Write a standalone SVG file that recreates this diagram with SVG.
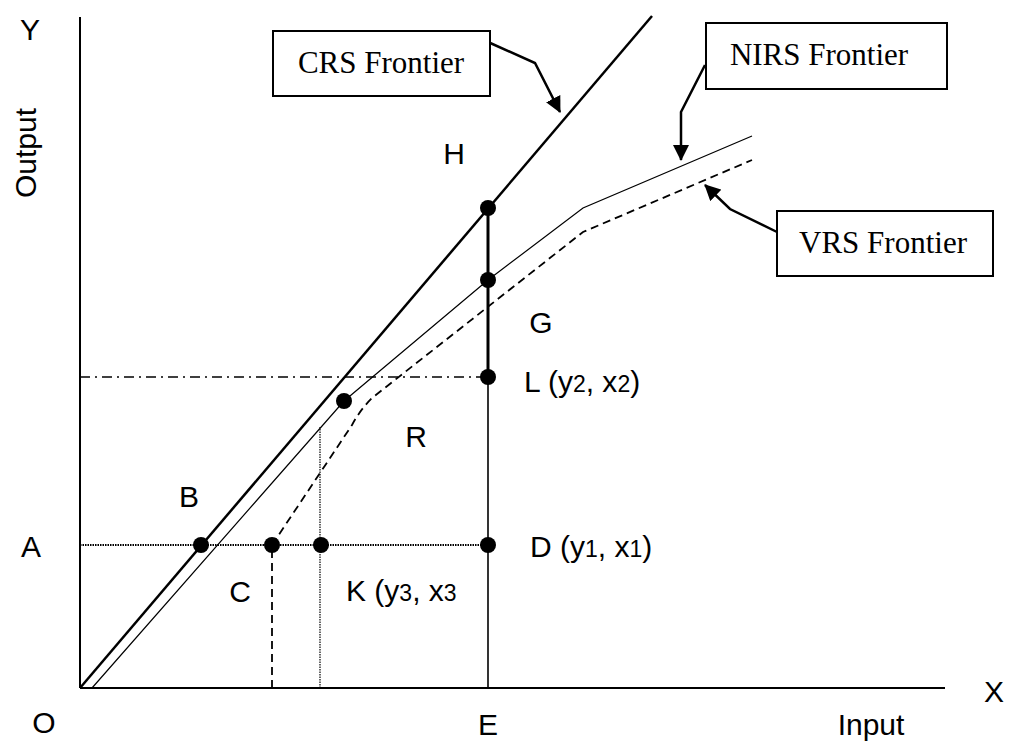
<svg xmlns="http://www.w3.org/2000/svg" width="1011" height="742" viewBox="0 0 1011 742">
<style>
.lbl{font-family:"Liberation Sans",Arial,sans-serif;font-size:30px;fill:#000}
.sub{font-size:23px}
.box{fill:#fff;stroke:#000;stroke-width:2}
.btxt{font-family:"Liberation Serif","Times New Roman",serif;font-size:31px;fill:#000;text-anchor:middle}
.ln{fill:none;stroke:#000}
.dot{fill:#000}
</style>
<defs>
<marker id="ahb" markerWidth="16" markerHeight="16" refX="15" refY="8" orient="auto" markerUnits="userSpaceOnUse" viewBox="0 0 16 16">
<path d="M0,0 L16,8 L0,16 Z" fill="#000"/>
</marker>
</defs>
<rect width="1011" height="742" fill="#fff"/>
<g id="axes">
<line class="ln" x1="80" y1="17" x2="80" y2="688" stroke-width="2"/>
<line class="ln" x1="80" y1="688" x2="945" y2="688" stroke-width="2"/>
</g>
<g id="connectors">
<line class="ln" x1="80" y1="545" x2="488" y2="545" stroke-width="2" stroke-dasharray="1.5 1"/>
<line class="ln" x1="80" y1="377" x2="488" y2="377" stroke-width="1.5" stroke-dasharray="10 5 2 5"/>
<line class="ln" x1="320" y1="688" x2="320" y2="427" stroke-width="1.2" stroke-dasharray="1.5 1"/>
<line class="ln" x1="272" y1="688" x2="272" y2="545" stroke-width="1.8" stroke-dasharray="8 5"/>
<line class="ln" x1="488" y1="208" x2="488" y2="377" stroke-width="3"/>
<line class="ln" x1="488" y1="377" x2="488" y2="688" stroke-width="1.6"/>
<line id="crs" class="ln" x1="80" y1="688" x2="652" y2="16" stroke-width="2.5"/>
<polyline id="nirs" class="ln" points="92,688 344,401 488,280 583,208 752,136" stroke-width="1.2"/>
<path id="vrs" class="ln" d="M272,545 L352,425 Q360,410 372,398 L583,232 L752,160" stroke-width="1.8" stroke-dasharray="8 5"/>
<polyline class="ln" points="488,42 535,63 560,112" stroke-width="2.5" marker-end="url(#ahb)"/>
<polyline class="ln" points="705,65 681,112 681,160" stroke-width="2.5" marker-end="url(#ahb)"/>
<polyline class="ln" points="777,232 730,209 705,185" stroke-width="2.5" marker-end="url(#ahb)"/>
</g>
<g id="points">
<circle class="dot" cx="201" cy="545" r="8"/>
<circle class="dot" cx="272" cy="545" r="8"/>
<circle class="dot" cx="321" cy="545" r="8"/>
<circle class="dot" cx="488" cy="545" r="8"/>
<circle class="dot" cx="488" cy="377" r="8"/>
<circle class="dot" cx="344" cy="401" r="8"/>
<circle class="dot" cx="488" cy="280" r="8"/>
<circle class="dot" cx="488" cy="208" r="8"/>
</g>
<g id="crs-box">
<rect class="box" x="273" y="31" width="217" height="65"/>
<text class="btxt" x="381" y="73">CRS Frontier</text>
</g>
<g id="nirs-box">
<rect class="box" x="706" y="23" width="241" height="66"/>
<text class="btxt" x="819" y="65">NIRS Frontier</text>
</g>
<g id="vrs-box">
<rect class="box" x="777" y="211" width="216" height="65"/>
<text class="btxt" x="883" y="253">VRS Frontier</text>
</g>
<g id="labels">
<text class="lbl" x="30" y="40" text-anchor="middle">Y</text>
<text class="lbl" x="36" y="153" text-anchor="middle" transform="rotate(-90 36 153)">Output</text>
<text class="lbl" x="994" y="702" text-anchor="middle">X</text>
<text class="lbl" x="871" y="735" text-anchor="middle">Input</text>
<text class="lbl" x="44" y="733" text-anchor="middle">O</text>
<text class="lbl" x="488" y="735" text-anchor="middle">E</text>
<text class="lbl" x="31" y="557" text-anchor="middle">A</text>
<text class="lbl" x="189" y="507" text-anchor="middle">B</text>
<text class="lbl" x="240" y="602" text-anchor="middle">C</text>
<text class="lbl" x="454" y="164" text-anchor="middle">H</text>
<text class="lbl" x="541" y="333" text-anchor="middle">G</text>
<text class="lbl" x="416" y="447" text-anchor="middle">R</text>
<text class="lbl" x="346" y="601">K (y<tspan class="sub">3</tspan>, x<tspan class="sub">3</tspan></text>
<text class="lbl" x="530" y="557">D (y<tspan class="sub">1</tspan>, x<tspan class="sub">1</tspan>)</text>
<text class="lbl" x="524" y="392">L (y<tspan class="sub">2</tspan>, x<tspan class="sub">2</tspan>)</text>
</g>
</svg>
